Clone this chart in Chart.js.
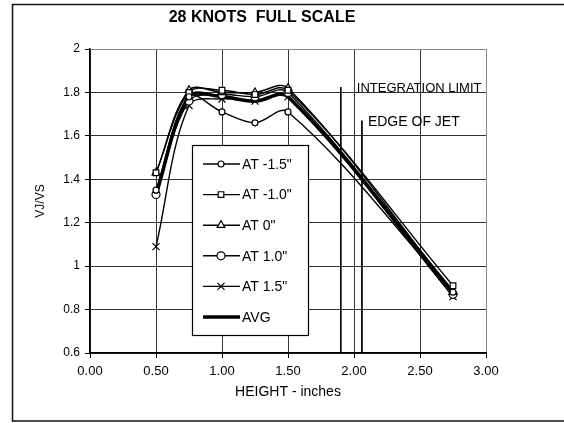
<!DOCTYPE html>
<html>
<head>
<meta charset="utf-8">
<title>28 KNOTS FULL SCALE</title>
<script src="https://cdn.jsdelivr.net/npm/chart.js@4/dist/chart.umd.min.js"></script>
<style>
html, body {margin: 0; padding: 0; background: #fff;}
canvas {display: block;}
</style>
</head>
<body>
<canvas id="chart" width="564" height="423"></canvas>
<script>
// probe heights (inches) and VJ/VS ratio per traverse
const heights = [0.5, 0.75, 1.0, 1.25, 1.5, 2.75]
const atMinus15 = [1.35, 1.78, 1.71, 1.66, 1.71, 0.88]
const atMinus10 = [1.43, 1.80, 1.81, 1.79, 1.81, 0.91]
const atZero = [1.43, 1.81, 1.80, 1.80, 1.82, 0.88]
const atPlus10 = [1.33, 1.76, 1.79, 1.78, 1.80, 0.87]
const atPlus15 = [1.09, 1.74, 1.77, 1.76, 1.78, 0.86]
const average = [1.33, 1.78, 1.78, 1.76, 1.78, 0.88]
const yTicks = [0.6, 0.8, 1, 1.2, 1.4, 1.6, 1.8, 2]
const xTicks = [0, 0.5, 1, 1.5, 2, 2.5, 3]
// vertical markers: x position, top of line
const limitLines = [
	{label: 'INTEGRATION LIMIT', x: 1.90, top: 1.825, dx: 16, size: 13},
	{label: 'EDGE OF JET', x: 2.06, top: 1.67, dx: 6, size: 14},
]

const font = "'Liberation Sans', Arial, sans-serif"

function points(values) {
	return values.map((v, i) => ({x: heights[i], y: v}))
}

function series(label, values, pointStyle, radius, width) {
	return {
		label,
		data: points(values),
		borderColor: '#000',
		backgroundColor: '#fff',
		borderWidth: width,
		pointStyle,
		pointRadius: radius,
		pointBorderWidth: 1.2,
		pointBackgroundColor: '#fff',
		pointBorderColor: '#000',
		tension: 0.35,
		inLegend: true,
	}
}

const datasets = [
	series('AT -1.5"', atMinus15, 'circle', 3, 1.4),
	series('AT -1.0"', atMinus10, 'rect', 4, 1.4),
	series('AT 0"', atZero, 'triangle', 4.5, 1.4),
	series('AT 1.0"', atPlus10, 'circle', 4, 1.4),
	series('AT 1.5"', atPlus15, 'crossRot', 5, 1.4),
	series('AVG', average, false, 0, 3.5),
]
for (const line of limitLines) {
	datasets.push({
		data: [{x: line.x, y: line.top}, {x: line.x, y: yTicks[0]}],
		borderColor: '#000',
		borderWidth: 1,
		pointRadius: 0,
		inLegend: false,
	})
}

const frame = {
	id: 'frame',
	beforeDraw(chart) {
		const {ctx} = chart
		ctx.save()
		ctx.fillStyle = '#fff'
		ctx.fillRect(0, 0, chart.width, chart.height)
		ctx.strokeStyle = '#111'
		ctx.lineWidth = 1.5
		ctx.strokeRect(12.5, 4.5, 620, 416.5)
		ctx.fillStyle = '#000'
		ctx.font = `bold 16px ${font}`
		ctx.textAlign = 'center'
		ctx.textBaseline = 'middle'
		ctx.fillText('28 KNOTS  FULL SCALE', 262, 18)
		ctx.restore()
	},
}

const annotations = {
	id: 'annotations',
	afterDatasetsDraw(chart) {
		const {ctx, scales: {x, y}} = chart
		ctx.save()
		ctx.fillStyle = '#000'
		ctx.textBaseline = 'middle'
		for (const line of limitLines) {
			ctx.font = `${line.size}px ${font}`
			ctx.fillText(line.label, x.getPixelForValue(line.x) + line.dx, y.getPixelForValue(line.top) + 1)
		}
		// legend box inside the plot
		ctx.fillStyle = '#fff'
		ctx.fillRect(192, 145, 116, 190)
		ctx.strokeStyle = '#000'
		ctx.lineWidth = 1.2
		ctx.strokeRect(192.5, 145.5, 116, 190)
		let row = 0
		for (const ds of chart.data.datasets) {
			if (!ds.inLegend) continue
			const ly = 164 + row * 30.6
			ctx.strokeStyle = '#000'
			ctx.lineWidth = ds.borderWidth
			ctx.beginPath()
			ctx.moveTo(203, ly)
			ctx.lineTo(240, ly)
			ctx.stroke()
			if (ds.pointStyle) {
				ctx.fillStyle = '#fff'
				ctx.lineWidth = 1.2
				Chart.helpers.drawPoint(ctx, {pointStyle: ds.pointStyle, radius: ds.pointRadius, borderWidth: 1.2, rotation: 0}, 221, ly)
			}
			ctx.fillStyle = '#000'
			ctx.font = `14px ${font}`
			ctx.fillText(ds.label, 242, ly + 1)
			row++
		}
		ctx.restore()
	},
}

new Chart(document.getElementById('chart'), {
	type: 'line',
	data: {datasets},
	options: {
		responsive: false,
		animation: false,
		layout: {padding: {top: 49, right: 78, bottom: 0, left: 0}},
		plugins: {
			legend: {display: false},
			tooltip: {enabled: false},
		},
		scales: {
			x: {
				type: 'linear',
				min: 0,
				max: 3,
				afterBuildTicks: scale => { scale.ticks = xTicks.map(value => ({value})) },
				afterFit: scale => { scale.height = 70 },
				grid: {color: ctx => ctx.index === xTicks.length - 1 ? '#888' : '#333', lineWidth: 1, tickLength: 5, tickColor: '#000'},
				border: {color: '#000', width: 1.5},
				ticks: {color: '#000', font: {family: font, size: 13}, padding: 6, callback: v => v.toFixed(2), maxRotation: 0},
				title: {display: true, text: 'HEIGHT - inches', color: '#000', font: {family: font, size: 14}, padding: {top: 0, bottom: 22}},
			},
			y: {
				min: 0.6,
				max: 2,
				afterBuildTicks: scale => { scale.ticks = yTicks.map(value => ({value})) },
				afterFit: scale => { scale.width = 90 },
				grid: {color: ctx => ctx.index === yTicks.length - 1 ? '#888' : '#333', lineWidth: 1, tickLength: 5, tickColor: '#000'},
				border: {color: '#000', width: 1.5},
				ticks: {color: '#000', font: {family: font, size: 12}, padding: 5, callback: v => String(Math.round(v * 10) / 10)},
				title: {display: true, text: 'VJ/VS', color: '#000', font: {family: font, size: 12}, padding: {top: 33, bottom: 0}},
			},
		},
	},
	plugins: [frame, annotations],
})
</script>
</body>
</html>
